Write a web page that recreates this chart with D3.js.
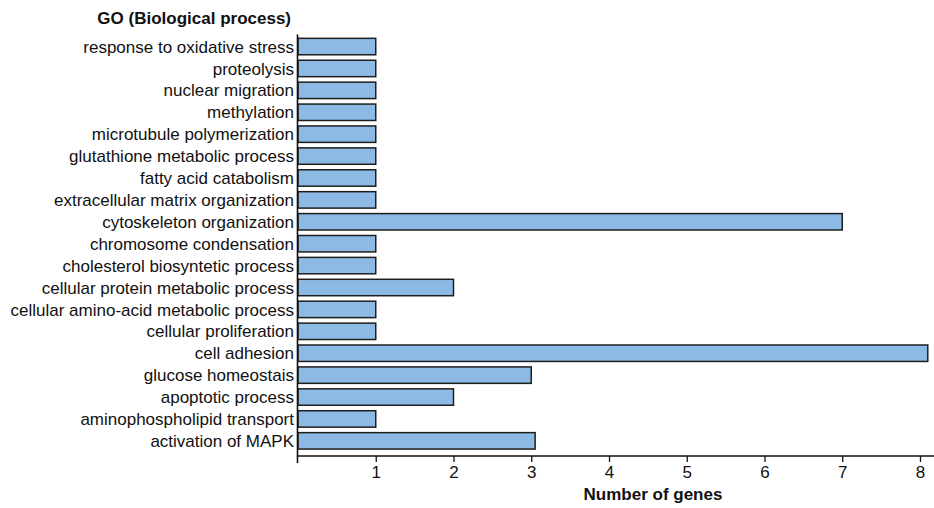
<!DOCTYPE html>
<html>
<head>
<meta charset="utf-8">
<script src="https://cdn.jsdelivr.net/npm/d3@7"></script>
<style>
  html, body { margin: 0; padding: 0; background: #fff; }
  svg { display: block; font-family: "Liberation Sans", Arial, sans-serif; }
</style>
</head>
<body>
<svg id="chart" width="934" height="508"></svg>
<script>
// GO biological process terms, top to bottom
const categories = [
  "response to oxidative stress",
  "proteolysis",
  "nuclear migration",
  "methylation",
  "microtubule polymerization",
  "glutathione metabolic process",
  "fatty acid catabolism",
  "extracellular matrix organization",
  "cytoskeleton organization",
  "chromosome condensation",
  "cholesterol biosyntetic process",
  "cellular protein metabolic process",
  "cellular amino-acid metabolic process",
  "cellular proliferation",
  "cell adhesion",
  "glucose homeostais",
  "apoptotic process",
  "aminophospholipid transport",
  "activation of MAPK"
];
const geneCounts = [1, 1, 1, 1, 1, 1, 1, 1, 7, 1, 1, 2, 1, 1, 8.1, 3, 2, 1, 3.05];
const xTicks = [1, 2, 3, 4, 5, 6, 7, 8];
const data = categories.map((c, i) => ({ term: c, value: geneCounts[i] }));

const svg = d3.select("#chart");

const x = d3.scaleLinear().domain([0, 8]).range([298, 920]);
const y = d3.scaleBand()
  .domain(categories)
  .range([35.6, 451.8])
  .paddingInner(0.25)
  .paddingOuter(0.125);

// bars
svg.append("g").selectAll("rect")
  .data(data)
  .enter().append("rect")
  .attr("x", x(0))
  .attr("y", d => y(d.term))
  .attr("width", d => x(d.value) - x(0))
  .attr("height", y.bandwidth())
  .attr("fill", "#8dbae5")
  .attr("stroke", "#1e1e1e")
  .attr("stroke-width", 1.5);

// category labels
svg.append("g").selectAll("text")
  .data(categories)
  .enter().append("text")
  .attr("x", 294)
  .attr("y", d => y(d) + y.bandwidth() / 2)
  .attr("dy", "0.36em")
  .attr("text-anchor", "end")
  .attr("font-size", 17)
  .attr("fill", "#111")
  .text(d => d);

// y axis line
svg.append("line")
  .attr("x1", 297.5).attr("x2", 297.5)
  .attr("y1", 34.5).attr("y2", 463)
  .attr("stroke", "#111").attr("stroke-width", 1.6);

// x axis
const xAxis = d3.axisBottom(x)
  .tickValues(xTicks)
  .tickSize(6)
  .tickPadding(4)
  .tickFormat(d3.format("d"));

const gx = svg.append("g")
  .attr("transform", "translate(0,456)")
  .call(xAxis);
gx.select(".domain").remove();
gx.selectAll(".tick line").attr("stroke", "#111").attr("stroke-width", 1.3);
gx.selectAll(".tick text")
  .attr("font-size", 17)
  .attr("font-family", "'Liberation Sans', Arial, sans-serif")
  .attr("fill", "#111");
gx.append("line")
  .attr("x1", 297).attr("x2", 934)
  .attr("y1", 0).attr("y2", 0)
  .attr("stroke", "#111").attr("stroke-width", 1.6);

// titles
svg.append("text")
  .attr("x", 291).attr("y", 24)
  .attr("text-anchor", "end")
  .attr("font-size", 17).attr("font-weight", "bold")
  .attr("fill", "#111")
  .text("GO (Biological process)");

svg.append("text")
  .attr("x", 653).attr("y", 500)
  .attr("text-anchor", "middle")
  .attr("font-size", 17).attr("font-weight", "bold")
  .attr("fill", "#111")
  .text("Number of genes");
</script>
</body>
</html>
